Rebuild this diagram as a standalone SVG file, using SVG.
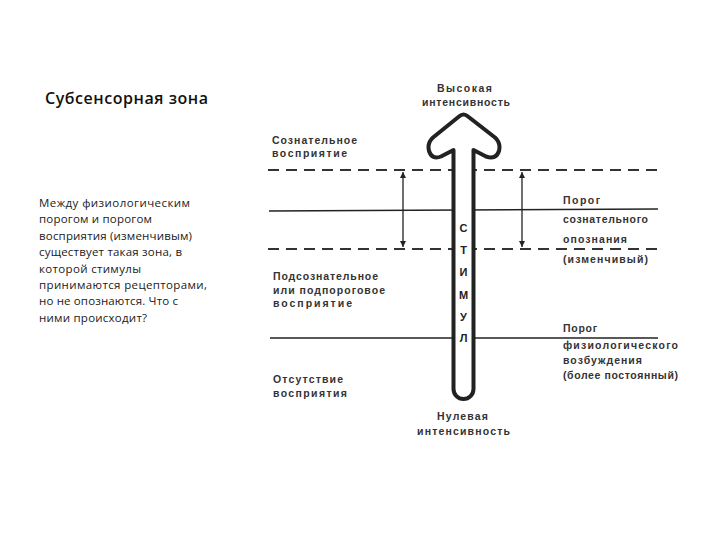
<svg xmlns="http://www.w3.org/2000/svg" width="720" height="540" viewBox="0 0 720 540">
  <defs>
    <marker id="ah" viewBox="0 0 10 10" refX="10" refY="5" markerWidth="6" markerHeight="7" markerUnits="userSpaceOnUse" orient="auto-start-reverse">
      <path d="M0,0 L10,5 L0,10 z" fill="#222"/>
    </marker>
    <style>
      .title{font-family:"Open Sans","Noto Sans",sans-serif;font-size:16px;font-weight:600;fill:#111}
      .para{font-family:"Open Sans","Noto Sans",sans-serif;font-size:11.5px;fill:#1a1a1a}
      .lbl{font-family:"Liberation Sans",Arial,sans-serif;font-size:10.5px;font-weight:bold;fill:#333}
      .stim{font-family:"Liberation Sans",Arial,sans-serif;font-size:11px;font-weight:bold;fill:#222;text-anchor:middle}
      .solid{stroke:#222;stroke-width:1.5;fill:none}
      .dash{stroke:#333;stroke-width:2;stroke-dasharray:11 7;fill:none}
      .dbl{stroke:#222;stroke-width:1.3;fill:none}
    </style>
  </defs>
  <rect width="720" height="540" fill="#fff"/>

  <g id="title">
    <text class="title" x="45" y="104" textLength="163">Субсенсорная зона</text>
  </g>

  <g id="description">
    <text class="para" x="39" y="207" textLength="151">Между физиологическим</text>
    <text class="para" x="39" y="223.4" textLength="113">порогом и порогом</text>
    <text class="para" x="39" y="239.8" textLength="153">восприятия (изменчивым)</text>
    <text class="para" x="39" y="256.2" textLength="143">существует такая зона, в</text>
    <text class="para" x="39" y="272.6" textLength="102">которой стимулы</text>
    <text class="para" x="39" y="289" textLength="168">принимаются рецепторами,</text>
    <text class="para" x="39" y="305.4" textLength="139">но не опознаются. Что с</text>
    <text class="para" x="39" y="321.8" textLength="108">ними происходит?</text>
  </g>

  <g id="connectors">
    <line class="dash" x1="268" y1="170" x2="658" y2="170"/>
    <line class="solid" x1="269" y1="211" x2="658" y2="209"/>
    <line class="dash" x1="268" y1="249" x2="658" y2="249"/>
    <line class="solid" x1="270" y1="338" x2="658" y2="338"/>
    <line class="dbl" x1="403" y1="172" x2="403" y2="247" marker-start="url(#ah)" marker-end="url(#ah)"/>
    <line class="dbl" x1="522" y1="172" x2="522" y2="247" marker-start="url(#ah)" marker-end="url(#ah)"/>
  </g>

  <g id="stimulus-arrow">
    <path d="M453.5 389 L453.5 150 L441 156.5 Q432 160 429 151 Q427 143 433 137.5 L459 116.5 Q463.5 112.5 468 116.5 L495 137.5 Q501 143 499 151 Q496 160 486 156.5 L473.5 150 L473.5 389 A10 10 0 0 1 453.5 389 Z" fill="#fff" stroke="#222" stroke-width="4" stroke-linejoin="round"/>
    <text class="stim" x="463.5" y="232">С</text>
    <text class="stim" x="463.5" y="254">Т</text>
    <text class="stim" x="463.5" y="276">И</text>
    <text class="stim" x="463.5" y="299">М</text>
    <text class="stim" x="463.5" y="321">У</text>
    <text class="stim" x="463.5" y="342">Л</text>
  </g>

  <g id="high-intensity">
    <text class="lbl" x="437" y="92" textLength="55">Высокая</text>
    <text class="lbl" x="422" y="106" textLength="88">интенсивность</text>
  </g>

  <g id="zero-intensity">
    <text class="lbl" x="437" y="420" textLength="51">Нулевая</text>
    <text class="lbl" x="417" y="435" textLength="93">интенсивность</text>
  </g>

  <g id="conscious-perception">
    <text class="lbl" x="272" y="144" textLength="85">Сознательное</text>
    <text class="lbl" x="272" y="157" textLength="75">восприятие</text>
  </g>

  <g id="subconscious-perception">
    <text class="lbl" x="273" y="280" textLength="105">Подсознательное</text>
    <text class="lbl" x="273" y="294" textLength="112">или подпороговое</text>
    <text class="lbl" x="273" y="307" textLength="79">восприятие</text>
  </g>

  <g id="no-perception">
    <text class="lbl" x="273" y="383" textLength="70">Отсутствие</text>
    <text class="lbl" x="273" y="397" textLength="74">восприятия</text>
  </g>

  <g id="recognition-threshold">
    <text class="lbl" x="563" y="204" textLength="37">Порог</text>
    <text class="lbl" x="563" y="223" textLength="85">сознательного</text>
    <text class="lbl" x="563" y="243" textLength="64">опознания</text>
    <text class="lbl" x="563" y="263" textLength="85">(изменчивый)</text>
  </g>

  <g id="physiological-threshold">
    <text class="lbl" x="563" y="332" textLength="34">Порог</text>
    <text class="lbl" x="563" y="349" textLength="115">физиологического</text>
    <text class="lbl" x="563" y="364" textLength="79">возбуждения</text>
    <text class="lbl" x="563" y="379" textLength="115">(более постоянный)</text>
  </g>
</svg>
